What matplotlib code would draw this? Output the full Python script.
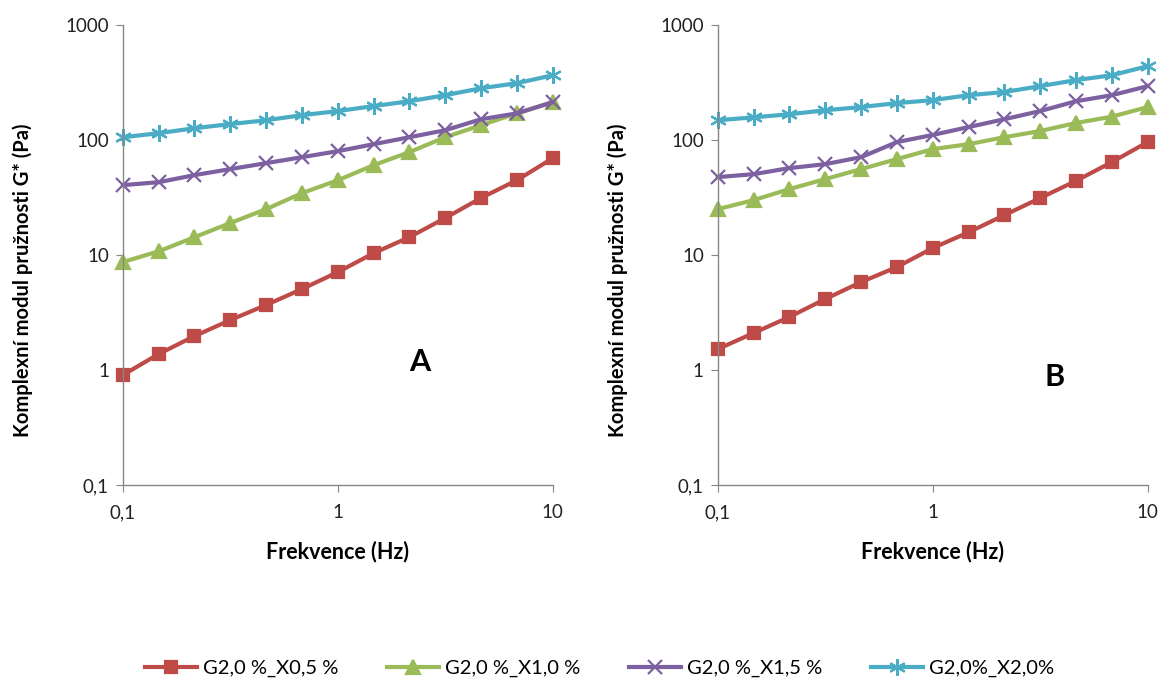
import matplotlib
matplotlib.use("Agg")
import matplotlib.pyplot as plt
from matplotlib.ticker import FixedLocator, FuncFormatter, NullLocator

plt.rcParams['font.family'] = ['Lato', 'DejaVu Sans']

freq = [0.1, 0.147, 0.215, 0.316, 0.464, 0.681, 1.0, 1.47, 2.15, 3.16, 4.64, 6.81, 10.0]

labels = ["G2,0 %_X0,5 %", "G2,0 %_X1,0 %", "G2,0 %_X1,5 %", "G2,0%_X2,0%"]

# panel A
a_x05 = [0.905, 1.38, 1.97, 2.72, 3.68, 5.06, 7.11, 10.4, 14.3, 21.0, 31.4, 44.8, 69.6]
a_x10 = [8.7, 10.8, 14.3, 19.0, 25.1, 34.6, 44.8, 60.6, 78.6, 106, 135, 171, 214]
a_x15 = [40.6, 43.1, 49.6, 56.0, 63.1, 71.1, 80.2, 92.3, 106, 122, 152, 171, 214]
a_x20 = [106, 115, 127, 138, 149, 165, 179, 198, 218, 246, 283, 313, 367]

# panel B
b_x05 = [1.52, 2.10, 2.89, 4.14, 5.82, 7.86, 11.5, 15.8, 22.2, 31.3, 44.2, 64.3, 96.1]
b_x10 = [25.1, 30.1, 37.5, 45.8, 56.0, 68.4, 83.5, 92.3, 106, 120, 141, 160, 194]
b_x15 = [47.7, 50.6, 57.1, 61.8, 71.1, 96.1, 111, 130, 152, 179, 218, 246, 295]
b_x20 = [149, 158, 168, 182, 194, 210, 223, 246, 262, 295, 333, 367, 440]

colors = ["#BE4B48", "#9BBB59", "#7D60A0", "#4BACC6"]
markers = ["s", "^", "x", (6, 2, 0)]
msizes = [9, 10, 10, 12]

fig = plt.figure(figsize=(11.71, 6.82), dpi=100)
ax_a = fig.add_axes([0.105, 0.289, 0.367, 0.674])
ax_b = fig.add_axes([0.613, 0.289, 0.367, 0.674])


def fmt(v, pos):
    if v < 1:
        return "0,1"
    return "%d" % v


def style(ax, letter, lx, ly):
    ax.set_xscale("log")
    ax.set_yscale("log")
    ax.set_xlim(0.1, 10)
    ax.set_ylim(0.1, 1000)
    ax.xaxis.set_major_locator(FixedLocator([0.1, 1, 10]))
    ax.yaxis.set_major_locator(FixedLocator([0.1, 1, 10, 100, 1000]))
    ax.xaxis.set_minor_locator(NullLocator())
    ax.yaxis.set_minor_locator(NullLocator())
    ax.xaxis.set_major_formatter(FuncFormatter(fmt))
    ax.yaxis.set_major_formatter(FuncFormatter(fmt))
    for s in ["top", "right"]:
        ax.spines[s].set_visible(False)
    for s in ["left", "bottom"]:
        ax.spines[s].set_color("#868686")
        ax.spines[s].set_linewidth(1)
    ax.tick_params(length=5, color="#868686", labelsize=13.5, labelcolor="#222222")
    ax.tick_params(axis="x", pad=9)
    ax.tick_params(axis="y", pad=5)
    ax.set_xlabel("Frekvence (Hz)", fontsize=15.5, fontweight="bold")
    ax.set_ylabel("Komplexní modul pružnosti G* (Pa)", fontsize=14.5, fontweight="bold")
    ax.xaxis.set_label_coords(0.5, -0.122)
    ax.yaxis.set_label_coords(-0.21, 0.445)
    ax.text(lx, ly, letter, transform=ax.transAxes, fontsize=22, fontweight="bold",
            ha="center", va="center")


series_a = [a_x05, a_x10, a_x15, a_x20]
series_b = [b_x05, b_x10, b_x15, b_x20]
for ax, series in [(ax_a, series_a), (ax_b, series_b)]:
    for i, ys in enumerate(series):
        ax.plot(freq, ys, color=colors[i], lw=3, marker=markers[i], ms=msizes[i],
                mew=1.6, label=labels[i], clip_on=False)

style(ax_a, "A", 0.69, 0.267)
style(ax_b, "B", 0.784, 0.235)

handles, labs = ax_a.get_legend_handles_labels()
fig.legend(handles, labs, loc="center", bbox_to_anchor=(0.512, 0.02), ncol=4, frameon=False,
           fontsize=14.5, handlelength=2.6, columnspacing=2.4, handletextpad=0.3)

fig.savefig("out.png", dpi=100)
